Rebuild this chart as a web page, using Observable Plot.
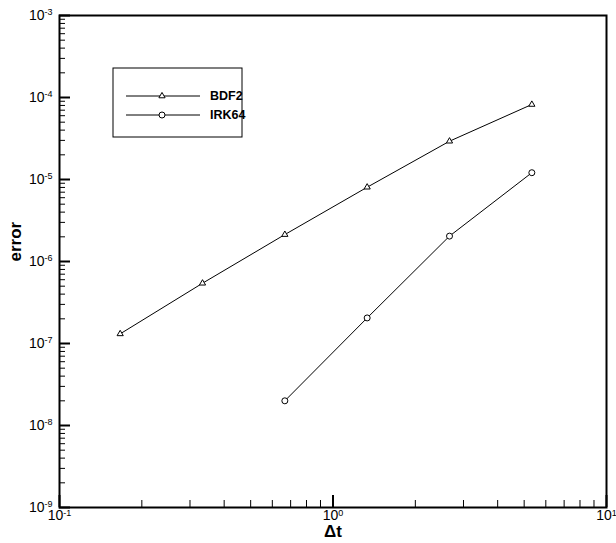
<!DOCTYPE html>
<html><head><meta charset="utf-8">
<script src="https://cdn.jsdelivr.net/npm/d3@7"></script>
<script src="https://cdn.jsdelivr.net/npm/@observablehq/plot@0.6"></script>
<style>body{margin:0;background:#fff}</style>
</head><body><div id="chart"></div>
<script>
// ---- data ----
const seriesNames = ["BDF2", "IRK64"];
const bdf2Dt = [1/6, 1/3, 2/3, 4/3, 8/3, 16/3];
const bdf2Err = [1.31e-7, 5.43e-7, 2.13e-6, 8.05e-6, 2.93e-5, 8.22e-5];
const irk64Dt = [2/3, 4/3, 8/3, 16/3];
const irk64Err = [2.0e-8, 2.05e-7, 2.04e-6, 1.21e-5];
const xMajor = [0.1, 1, 10];
const yMajor = [1e-9, 1e-8, 1e-7, 1e-6, 1e-5, 1e-4, 1e-3];
const xLabel = "Δt";
const yLabel = "error";

function minors(majors) {
  const out = [];
  for (let i = 0; i < majors.length - 1; i++)
    for (let m = 2; m <= 9; m++) out.push(majors[i] * m);
  return out;
}
const xMinor = minors(xMajor);
const yMinor = minors(yMajor);
const supFmt = d => "10^" + Math.round(Math.log10(d));

const bdfRows = bdf2Dt.map((x, i) => ({series: seriesNames[0], x, y: bdf2Err[i]}));
const irkRows = irk64Dt.map((x, i) => ({series: seriesNames[1], x, y: irk64Err[i]}));
const rows = bdfRows.concat(irkRows);

const W = 616, H = 543, ML = 59, MR = 10, MT = 15, MB = 36;
const frameW = W - ML - MR, frameH = H - MT - MB;

const chart = Plot.plot({
  width: W, height: H,
  marginLeft: ML, marginRight: MR, marginTop: MT, marginBottom: MB,
  style: {fontFamily: "Liberation Sans, Arial, sans-serif", background: "white", color: "black"},
  x: {type: "log", domain: [0.1, 10]},
  y: {type: "log", domain: [1e-9, 1e-3]},
  marks: [
    Plot.axisX(xMajor, {anchor: "bottom", tickSize: 0, tickPadding: 3, tickFormat: supFmt, fontSize: 14, label: null}),
    Plot.axisY(yMajor, {anchor: "left", tickSize: 0, tickPadding: 7, tickFormat: supFmt, fontSize: 14, label: null}),
    // inward tick marks: vertical ticks kept only at the bottom edge, horizontal ones only at the left edge
    Plot.tickX(xMinor, {x: d => d, stroke: "black", strokeWidth: 1, insetTop: frameH - 7}),
    Plot.tickX(xMajor, {x: d => d, stroke: "black", strokeWidth: 2, insetTop: frameH - 12}),
    Plot.tickY(yMinor, {y: d => d, stroke: "black", strokeWidth: 1, insetRight: frameW - 6}),
    Plot.tickY(yMajor, {y: d => d, stroke: "black", strokeWidth: 2, insetRight: frameW - 11}),
    Plot.frame({stroke: "black", strokeWidth: 2}),
    Plot.line(rows, {x: "x", y: "y", z: "series", stroke: "black", strokeWidth: 1}),
    Plot.dot(bdfRows, {x: "x", y: "y", symbol: "triangle", r: 2.3, fill: "white", stroke: "black", strokeWidth: 1}),
    Plot.dot(irkRows, {x: "x", y: "y", symbol: "circle", r: 3, fill: "white", stroke: "black", strokeWidth: 1}),
    Plot.text([xLabel], {frameAnchor: "bottom", dy: 24, text: d => d, fontSize: 17, fontWeight: "bold", lineAnchor: "middle", fill: "black"}),
    Plot.text([yLabel], {frameAnchor: "left", dx: -44, rotate: -90, text: d => d, fontSize: 17, fontWeight: "bold", fill: "black"})
  ]
});

document.getElementById("chart").appendChild(chart);
const svg = d3.select(chart);

// superscript exponents in tick labels
svg.selectAll("g[aria-label$='tick label'] text").each(function() {
  const t = d3.select(this);
  const s = this.textContent;
  if (!s.startsWith("10^")) return;
  const exp = s.slice(3);
  t.text("");
  t.append("tspan").text("10");
  t.append("tspan").attr("dy", "-0.5em").attr("font-size", 9).text(exp);
});

// legend
const lg = svg.append("g").attr("aria-label", "legend").attr("text-anchor", "start");
lg.append("rect").attr("x", 113).attr("y", 68).attr("width", 129).attr("height", 69)
  .attr("fill", "white").attr("stroke", "black").attr("stroke-width", 1);
const legendItems = [
  {name: seriesNames[0], sym: d3.symbolTriangle, size: Math.PI * 2.3 * 2.3, y: 96},
  {name: seriesNames[1], sym: d3.symbolCircle, size: Math.PI * 3 * 3, y: 115}
];
legendItems.forEach(it => {
  lg.append("line").attr("x1", 126).attr("x2", 200).attr("y1", it.y).attr("y2", it.y)
    .attr("stroke", "black").attr("stroke-width", 1);
  lg.append("path").attr("d", d3.symbol(it.sym, it.size)()).attr("transform", `translate(162,${it.y})`)
    .attr("fill", "white").attr("stroke", "black");
  lg.append("text").attr("x", 210).attr("y", it.y).attr("dy", "0.35em").attr("text-anchor", "start")
    .attr("font-size", 12.5).attr("font-weight", "bold").attr("fill", "black").text(it.name);
});
</script>
</body></html>
